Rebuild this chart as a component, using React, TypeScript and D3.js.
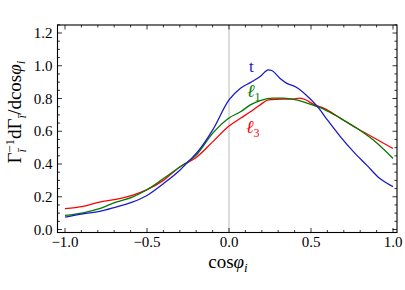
import React from "react";
import * as d3 from "d3";

const xT = [-1, -0.89, -0.79, -0.69, -0.59, -0.5, -0.4, -0.3, -0.24, -0.2, -0.1, 0, 0.07, 0.13, 0.19, 0.24, 0.26, 0.31, 0.35, 0.41, 0.47, 0.54, 0.6, 0.68, 0.76, 0.84, 0.92, 1];
const tValues = [0.075, 0.096, 0.11, 0.137, 0.167, 0.208, 0.28, 0.362, 0.423, 0.464, 0.607, 0.791, 0.863, 0.897, 0.934, 0.975, 0.971, 0.924, 0.894, 0.869, 0.822, 0.75, 0.669, 0.566, 0.474, 0.393, 0.311, 0.262];

const xL1 = [-1, -0.89, -0.79, -0.69, -0.59, -0.5, -0.4, -0.3, -0.2, -0.1, 0, 0.07, 0.13, 0.19, 0.27, 0.33, 0.41, 0.49, 0.58, 0.68, 0.78, 0.88, 1];
const l1Values = [0.086, 0.102, 0.127, 0.167, 0.198, 0.243, 0.311, 0.382, 0.454, 0.587, 0.681, 0.719, 0.761, 0.787, 0.802, 0.802, 0.791, 0.767, 0.734, 0.679, 0.618, 0.546, 0.434];

const xL3 = [-1, -0.89, -0.79, -0.69, -0.59, -0.5, -0.4, -0.3, -0.2, -0.1, 0, 0.07, 0.13, 0.19, 0.24, 0.33, 0.39, 0.43, 0.47, 0.51, 0.58, 0.68, 0.78, 0.88, 1];
const l3Values = [0.127, 0.141, 0.167, 0.184, 0.208, 0.243, 0.3, 0.382, 0.44, 0.535, 0.632, 0.679, 0.719, 0.761, 0.791, 0.797, 0.796, 0.802, 0.791, 0.767, 0.74, 0.679, 0.618, 0.562, 0.495];

const xTicks = [-1, -0.5, 0, 0.5, 1];
const xTickLabels = ["\u22121.0", "\u22120.5", "0.0", "0.5", "1.0"];
const yTicks = [0, 0.2, 0.4, 0.6, 0.8, 1.0, 1.2];
const yTickLabels = ["0.0", "0.2", "0.4", "0.6", "0.8", "1.0", "1.2"];

const W = 405, H = 290;
const left = 57.5, right = 397, top = 25, bottom = 232.5;
const FONT = '"Liberation Serif", "DejaVu Serif", serif';

export default function App() {
  const x = d3.scaleLinear().domain([-1, 1]).range([65, 393]);
  const y = d3.scaleLinear().domain([0, 1.2]).range([229.5, 33]);
  const line = (xs: number[], vs: number[]) =>
    d3.line<number>().x((_, i) => x(xs[i])).y((v) => y(v)).curve(d3.curveMonotoneX)(vs) || "";

  const xMinor = d3.range(-1.0, 1.0001, 0.1).map((v) => Math.round(v * 10) / 10);
  const yMinor = d3.range(0, 1.2501, 0.05).map((v) => Math.round(v * 100) / 100);
  return (
    <svg width={W} height={H} style={{ position: "absolute", left: 0, top: 0, background: "#fff" }}>
      <style>{`text, tspan { font-family: ${FONT}; }`}</style>
      <line x1={x(0)} x2={x(0)} y1={top} y2={bottom} stroke="#bbb" strokeWidth={1} />
      {xMinor.map((v, i) => {
        const major = xTicks.some((t) => Math.abs(t - v) < 1e-6);
        const len = major ? 4.5 : 2.5;
        return (
          <g key={"xm" + i}>
            <line x1={x(v)} x2={x(v)} y1={bottom} y2={bottom - len} stroke="#000" strokeWidth={0.8} />
            <line x1={x(v)} x2={x(v)} y1={top} y2={top + len} stroke="#000" strokeWidth={0.8} />
          </g>
        );
      })}
      {yMinor.map((v, i) => {
        const major = yTicks.some((t) => Math.abs(t - v) < 1e-6);
        const len = major ? 4.5 : 2.5;
        return (
          <g key={"ym" + i}>
            <line x1={left} x2={left + len} y1={y(v)} y2={y(v)} stroke="#000" strokeWidth={0.8} />
            <line x1={right} x2={right - len} y1={y(v)} y2={y(v)} stroke="#000" strokeWidth={0.8} />
          </g>
        );
      })}
      <path d={line(xL3, l3Values)} fill="none" stroke="#ff0000" strokeWidth={1.3} />
      <path d={line(xL1, l1Values)} fill="none" stroke="#007a00" strokeWidth={1.3} />
      <path d={line(xT, tValues)} fill="none" stroke="#1a1ac8" strokeWidth={1.3} />
      <rect x={left} y={top} width={right - left} height={bottom - top} fill="none" stroke="#000" strokeWidth={1.1} />
      {xTicks.map((v, i) => (
        <text key={"xl" + i} x={x(v)} y={247} textAnchor="middle" fontSize={15} fontFamily={FONT}>{xTickLabels[i]}</text>
      ))}
      {yTicks.map((v, i) => (
        <text key={"yl" + i} x={52.5} y={y(v) + 5} textAnchor="end" fontSize={15} fontFamily={FONT}>{yTickLabels[i]}</text>
      ))}
      <text x={228} y={268} textAnchor="middle" fontSize={19} fontFamily={FONT}>
        cos<tspan fontStyle="italic">φ</tspan><tspan fontStyle="italic" fontSize={13} dy={4}>i</tspan>
      </text>
      <text transform="translate(21,112) rotate(-90)" textAnchor="middle" fontSize={19} fontFamily={FONT}>
        Γ<tspan fontStyle="italic" fontSize={13} dy={5}>ī</tspan><tspan fontSize={13} dx={-4} dy={-12}>−1</tspan><tspan dy={7}>dΓ</tspan><tspan fontStyle="italic" fontSize={13} dy={5}>ī</tspan><tspan dy={-5}>/dcos</tspan><tspan fontStyle="italic">φ</tspan><tspan fontStyle="italic" fontSize={13} dy={4}>i</tspan>
      </text>
      <text x={249} y={72} fill="#1a1ac8" fontSize={17} fontFamily={FONT}>t</text>
      <text x={247} y={97} fill="#007a00" fontSize={18} fontStyle="italic" fontFamily={FONT}>ℓ<tspan fontStyle="normal" fontSize={12} dy={4}>1</tspan></text>
      <text x={246} y={133} fill="#ff0000" fontSize={18} fontStyle="italic" fontFamily={FONT}>ℓ<tspan fontStyle="normal" fontSize={12} dy={4}>3</tspan></text>
    </svg>
  );
}
